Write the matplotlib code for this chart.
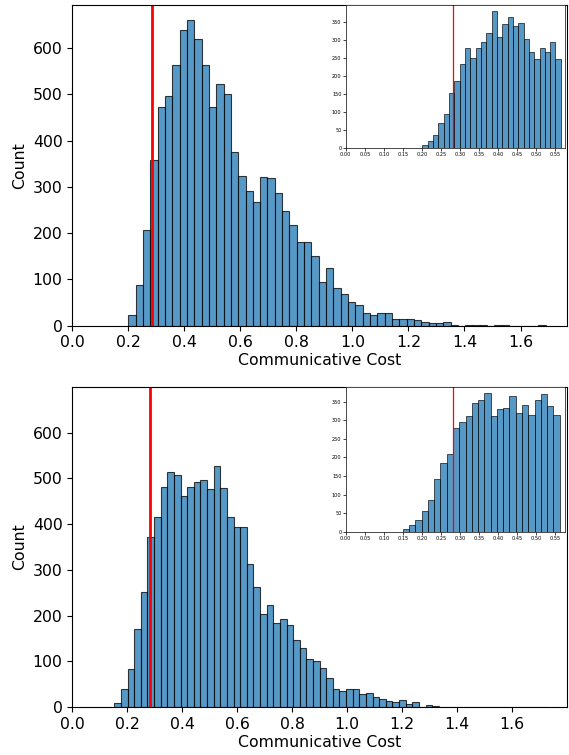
import numpy as np
import matplotlib
matplotlib.use("Agg")
import matplotlib.pyplot as plt

# Histogram counts (seaborn-style histplot look)
THRESHOLD = 0.283

# top panel, full range
top_bin_range = (0.2, 1.69)
top_counts = [24, 87, 206, 357, 473, 497, 564, 640, 660, 620, 563, 472, 522, 500,
              376, 324, 290, 267, 322, 320, 286, 247, 217, 181, 181, 151, 94, 125,
              81, 69, 52, 45, 27, 24, 28, 27, 14, 14, 14, 12, 8, 5, 5, 7, 2, 0, 2,
              2, 1, 0, 1, 1, 0, 0, 0, 0, 1]

# top panel, inset (zoom on low costs)
top_inset_range = (0.201, 0.565)
top_inset_counts = [8, 21, 37, 69, 95, 153, 186, 234, 276, 249, 277, 293, 318,
                    378, 308, 343, 362, 337, 347, 303, 267, 247, 278, 265, 293, 246]

# bottom panel, full range
bot_bin_range = (0.153, 1.72)
bot_counts = [9, 41, 83, 172, 252, 371, 415, 480, 514, 507, 462, 482, 492, 497,
              476, 527, 478, 415, 394, 393, 313, 263, 204, 223, 184, 192, 180, 146,
              129, 105, 101, 85, 65, 41, 35, 41, 39, 28, 31, 23, 17, 14, 12, 15, 7,
              12, 1, 4, 2, 1, 1, 1, 0, 0, 0, 1, 0, 0, 0, 0, 0, 0, 0, 0, 1]

# bottom panel, inset
bot_inset_range = (0.15, 0.562)
bot_inset_counts = [8, 17, 31, 56, 86, 142, 184, 208, 278, 294, 311, 345, 354,
                    373, 311, 330, 332, 364, 319, 340, 313, 353, 370, 338, 315]

BAR_COLOR = "#1f77b4"


def draw_hist(ax, counts, bin_range, lw):
    edges = np.linspace(bin_range[0], bin_range[1], len(counts) + 1)
    ax.bar(edges[:-1], counts, width=np.diff(edges), align="edge",
           color=BAR_COLOR, alpha=0.75, edgecolor="black", linewidth=lw)


def main_panel(fig, rect, counts, bin_range, xlim, ylim):
    ax = fig.add_axes(rect)
    draw_hist(ax, counts, bin_range, 0.8)
    ax.axvline(THRESHOLD, color="red", linewidth=2)
    ax.set_xlim(*xlim)
    ax.set_ylim(*ylim)
    ax.set_xticks(np.arange(0, 1.61, 0.2))
    ax.set_yticks(np.arange(0, 601, 100))
    ax.tick_params(labelsize=11.3)
    ax.set_xlabel("Communicative Cost", fontsize=11.3, labelpad=2)
    ax.set_ylabel("Count", fontsize=11.3)
    return ax


def inset_panel(fig, rect, counts, bin_range, ylim):
    ax = fig.add_axes(rect)
    draw_hist(ax, counts, bin_range, 0.6)
    ax.axvline(THRESHOLD, color="red", linewidth=0.9)
    ax.set_xlim(0, 0.576)
    ax.set_ylim(*ylim)
    ax.set_xticks(np.arange(0, 0.551, 0.05))
    ax.set_yticks(np.arange(0, 351, 50))
    ax.tick_params(labelsize=3.6, length=2, width=0.5, pad=1)
    for s in ax.spines.values():
        s.set_linewidth(0.5)
    return ax


fig = plt.figure(figsize=(5.69, 7.55), dpi=100)

main_panel(fig, [0.1271, 0.5686, 0.8689, 0.4248], top_counts, top_bin_range,
           (0, 1.765), (0, 693))
inset_panel(fig, [0.6076, 0.8036, 0.3854, 0.1898], top_inset_counts,
            top_inset_range, (0, 396))

main_panel(fig, [0.1271, 0.0632, 0.8689, 0.4246], bot_counts, bot_bin_range,
           (0, 1.80), (0, 700))
inset_panel(fig, [0.6076, 0.2958, 0.3854, 0.1920], bot_inset_counts,
            bot_inset_range, (0, 390))

fig.savefig("out.png", dpi=100)
